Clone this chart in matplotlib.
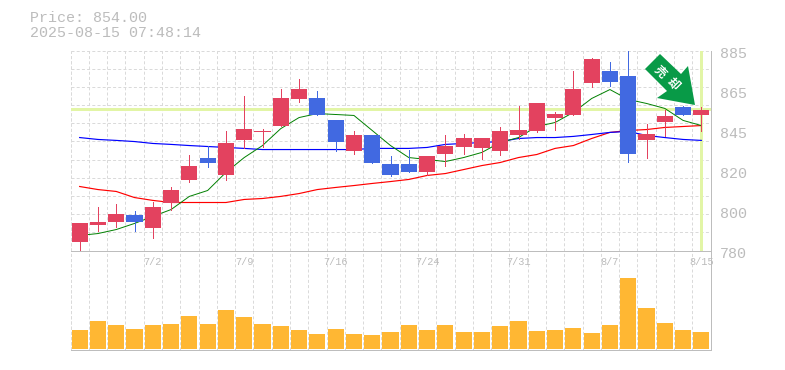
import matplotlib

matplotlib.use("Agg")
import matplotlib.pyplot as plt
from matplotlib.patches import Polygon, Rectangle

# candles, oldest first
opens = [784.7, 793.6, 794.7, 798.4, 791.6, 804.7, 816.8, 828.3, 819.9, 837.8, 842.0, 845.6,
         859.8, 860.3, 848.3, 832.0, 840.4, 825.2, 825.2, 821.0, 830.9, 834.6, 833.6, 832.0,
         840.9, 842.5, 849.8, 850.9, 867.7, 874.5, 871.4, 837.8, 847.7, 855.1, 850.9]
closes = [794.2, 795.2, 799.4, 794.7, 803.1, 811.5, 824.1, 825.7, 836.2, 844.0, 843.0, 860.3,
          865.0, 850.9, 836.7, 840.4, 825.7, 819.9, 821.0, 829.4, 835.1, 839.3, 839.3, 842.5,
          843.0, 857.2, 851.4, 865.0, 880.3, 868.7, 830.9, 841.4, 850.4, 850.9, 854.0]
highs = [794.2, 803.1, 804.2, 801.0, 805.2, 813.1, 830.4, 835.1, 843.0, 860.9, 844.0, 865.0,
         870.3, 864.0, 848.3, 843.0, 840.4, 829.4, 833.0, 829.4, 840.4, 841.4, 839.3, 845.1,
         856.1, 857.2, 852.5, 874.5, 881.3, 879.2, 885.0, 846.2, 854.0, 856.1, 855.1]
lows = [780.5, 790.5, 792.6, 790.5, 786.8, 801.5, 815.7, 823.6, 816.8, 833.6, 834.6, 845.6,
        857.7, 850.9, 832.5, 830.9, 825.7, 818.9, 821.0, 819.9, 824.6, 830.9, 827.8, 829.9,
        838.8, 842.0, 843.5, 850.9, 865.6, 866.6, 826.7, 828.8, 839.9, 850.9, 842.5]

ma_short = [787.9, 788.9, 791.0, 794.2, 797.9, 801.5, 808.4, 811.5, 821.0, 828.8, 835.1, 844.0,
            849.8, 851.9, 851.4, 850.9, 843.0, 835.1, 828.8, 827.8, 826.7, 828.8, 831.5, 836.7,
            839.3, 845.1, 847.2, 852.5, 859.8, 864.5, 859.3, 857.2, 854.6, 848.3, 845.6]
ma_mid = [839.3, 838.3, 837.8, 837.2, 836.2, 835.7, 835.1, 834.6, 834.1, 833.6, 833.0, 833.0,
          833.0, 833.0, 833.0, 833.0, 833.6, 833.6, 833.6, 834.1, 835.7, 836.2, 836.7, 837.2,
          838.8, 839.3, 839.3, 839.9, 840.9, 842.0, 842.5, 840.4, 839.3, 838.3, 837.8]
ma_long = [813.6, 812.0, 811.0, 807.8, 806.3, 805.2, 805.2, 805.2, 805.2, 806.8, 807.3, 808.4,
           809.9, 812.0, 813.1, 814.1, 815.2, 816.2, 817.3, 819.4, 820.4, 822.5, 824.6, 826.2,
           828.8, 830.4, 833.6, 835.1, 838.8, 842.0, 843.0, 843.5, 844.6, 845.1, 845.6]

volumes = [190, 280, 240, 200, 240, 250, 330, 250, 390, 320, 250, 230, 190, 150, 200, 150, 140, 170,
           240, 190, 240, 170, 170, 230, 280, 180, 190, 210, 160, 240, 710, 410, 260, 190, 170]

date_pos = [4, 9, 14, 19, 24, 29, 34]
date_labels = ["7/2", "7/9", "7/16", "7/24", "7/31", "8/7", "8/15"]

price_ticks = [885, 864, 843, 822, 801, 780]
price_labels = ["885", "865", "845", "820", "800", "780"]

last_price = 854.0
title_lines = ["Price: 854.00", "2025-08-15 07:48:14"]

W, H = 785, 370
RED = "#e3425f"
BLUE = "#4169e1"
GRID = "#dadada"
FRAME = "#bdbdbd"
TEXT = "#bcbcbc"
HILITE = "#e2f5a6"
ORANGE = "#ffb733"
MONO = "Liberation Mono"
PX = 0.72  # one pixel, in points
DASH = (0, (3, 2.2))

n = len(closes)


def px_axes(left, top, right, bottom):
    return [left / W, 1 - bottom / H, (right - left) / W, (bottom - top) / H]


fig = plt.figure(figsize=(W / 100, H / 100), dpi=100)
ax = fig.add_axes(px_axes(70.5, 50.5, 710.5, 250.5))
ax2 = fig.add_axes(px_axes(70.5, 250.5, 710.5, 349.5))

for a in (ax, ax2):
    a.set_xlim(0, n)
    a.set_xticks(range(n))
    a.tick_params(length=0, labelbottom=False, labelleft=False)
    a.set_axisbelow(True)
    a.grid(True, axis="x", color=GRID, linestyle=DASH, linewidth=PX)
    a.spines["left"].set_visible(False)
    a.spines["top"].set_visible(False)
    a.spines["right"].set_color(FRAME)
    a.spines["bottom"].set_color(FRAME)
    a.spines["right"].set_linewidth(PX)
    a.spines["bottom"].set_linewidth(PX)
    a.axvline(0, color=GRID, linestyle=DASH, linewidth=PX, zorder=0)

ax2.spines["top"].set_visible(True)
ax2.spines["top"].set_color(FRAME)
ax2.spines["top"].set_linewidth(PX)

ax.set_ylim(780, 885)
ax.set_yticks([780 + i * 105 / 11 for i in range(12)])
ax.grid(True, axis="y", color=GRID, linestyle=DASH, linewidth=PX)

# current price cross, 3px wide bands
ax.axhspan(last_price - 0.8, last_price + 0.8, color=HILITE, linewidth=0, zorder=1)
ax.axvspan(n - 0.58, n - 0.42, color=HILITE, linewidth=0, zorder=1)

xs = [i + 0.5 for i in range(n)]
ax.plot(xs, ma_long, color="#ff0000", linewidth=0.85, zorder=2)
ax.plot(xs, ma_mid, color="#0000ff", linewidth=0.85, zorder=2)
ax.plot(xs, ma_short, color="#008000", linewidth=0.7, zorder=2)

for i in range(n):
    col = RED if closes[i] >= opens[i] else BLUE
    ax.vlines(xs[i], lows[i], highs[i], color=col, linewidth=PX, zorder=3, clip_on=False, antialiased=False)
    ax.add_patch(Rectangle((xs[i] - 0.44, min(opens[i], closes[i])), 0.88, abs(closes[i] - opens[i]),
                           facecolor=col, edgecolor="none", zorder=4, antialiased=False))

ax2.set_ylim(-10, 980)
ax2.bar(xs, volumes, width=0.88, color=ORANGE, zorder=3, antialiased=False)

# price labels sit a little under their tick
for tick, label in zip(price_ticks, price_labels):
    ax.annotate(label, xy=(1, tick), xycoords=("axes fraction", "data"), xytext=(6.5, -2.2),
                textcoords="offset points", color=TEXT, fontsize=10.8, family=MONO, va="center")

for pos, label in zip(date_pos, date_labels):
    ax2.annotate(label, xy=(pos + 0.5, 1), xycoords=("data", "axes fraction"), xytext=(0, -8.5),
                 textcoords="offset points", color=TEXT, fontsize=7.4, family=MONO,
                 ha="center", va="center")

for line, y in zip(title_lines, (18, 33)):
    fig.text(30 / W, 1 - y / H, line, color=TEXT, fontsize=10.8, family=MONO, va="center")

# sell sign
arrow_px = [(660, 54), (645, 69), (667, 91), (657, 98), (695, 105), (688, 66), (681, 74)]
fig.add_artist(Polygon([(x / W, 1 - y / H) for x, y in arrow_px], closed=True, transform=fig.transFigure,
                       facecolor="#089a47", edgecolor="none", zorder=6))
for ch, (x, y) in zip("\u58f2\u5374", [(660, 72), (673, 84)]):
    fig.text(x / W, 1 - y / H, ch, color="white", fontsize=8.5, rotation=-45, rotation_mode="anchor",
             ha="center", va="center", family=["Noto Sans CJK JP", "DejaVu Sans"], weight="bold", zorder=7)

fig.savefig("out.png", dpi=100)
